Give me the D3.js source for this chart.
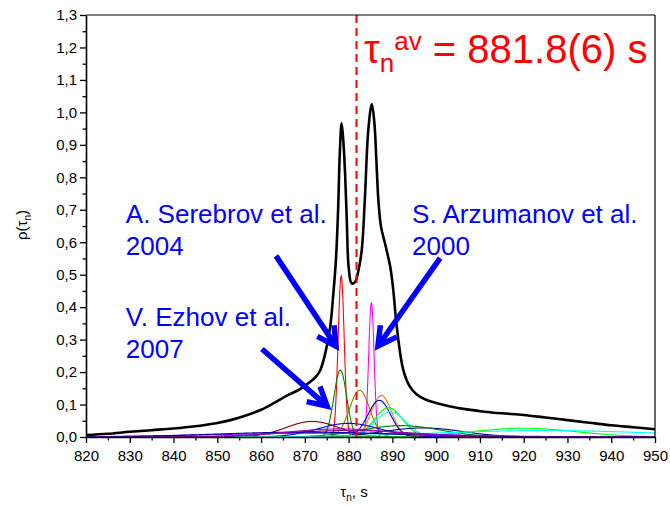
<!DOCTYPE html>
<html><head><meta charset="utf-8">
<script src="https://cdn.jsdelivr.net/npm/d3@7"></script>
<style>
body{margin:0;background:#fff;}
text{font-family:Arial,"Liberation Sans",sans-serif;}
</style></head>
<body><svg id="c" width="670" height="507"></svg>
<script>
// ---- data ----
const xTicks = [820,830,840,850,860,870,880,890,900,910,920,930,940,950];
const yTicks = [0,0.1,0.2,0.3,0.4,0.5,0.6,0.7,0.8,0.9,1.0,1.1,1.2,1.3];
// summed ideogram (black curve)
const sumX = [820,825,830,835,840,845,850,853,856,860,863,866,869,871,872.5,873.5,874.7,875.8,876.5,877.1,877.6,878.0,878.4,878.8,879.2,879.6,880.0,880.7,881.5,882.2,883.0,883.7,884.5,885.3,885.9,886.3,886.8,887.4,888.3,889.5,890.2,891.0,892.5,894.0,895.5,897.8,900,903,907,911,915,920,925,930,935,940,945,950];
const sumY = [0.006,0.01,0.016,0.021,0.026,0.033,0.043,0.052,0.064,0.084,0.105,0.128,0.148,0.168,0.185,0.205,0.26,0.34,0.44,0.545,0.70,0.88,0.966,0.91,0.81,0.66,0.525,0.473,0.478,0.51,0.576,0.73,0.946,1.026,0.966,0.864,0.73,0.648,0.597,0.525,0.453,0.34,0.206,0.155,0.132,0.114,0.105,0.095,0.085,0.078,0.073,0.068,0.06,0.052,0.044,0.036,0.03,0.024];
const compMean  = [878.3, 885.2, 878.1, 882.5, 887.5, 887.0, 889.1, 889.5, 871.7, 880.0, 897.0, 892.0, 920.0, 925.0, 880.0, 875.0, 870.0, 878.0];
const compSigma = [0.7,   0.62,  1.45,  2.3,   2.3,   2.6,   3.2,   3.5,   6.0,   7.0,   9.0,   9.0,   12.0,  25.0,  15.0,  25.0,  20.0,  12.0];
const compPeak  = [0.496, 0.415, 0.206, 0.144, 0.128, 0.113, 0.09,  0.078, 0.048, 0.042, 0.028, 0.035, 0.027, 0.02,  0.02,  0.012, 0.015, 0.025];
const compColor = ["#ff0000","#ff00ff","#008000","#808000","#ff8000","#0000ff","#00ff00","#00ffff","#800000","#0000ff","#000080","#008000","#00ff00","#00ffff","#800080","#8000ff","#0000a0","#a000a0"];
const tauAv = 881.8;
const annotations = [
  {lines:["A. Serebrov et al.","2004"], x:829.1, y:0.66, from:[863.4,0.558], to:[877.1,0.28]},
  {lines:["S. Arzumanov et al.","2000"], x:894.5, y:0.66, from:[900.9,0.551], to:[886.7,0.28]},
  {lines:["V. Ezhov et al.","2007"], x:829.1, y:0.342, from:[860.2,0.271], to:[875.1,0.095]}
];

// ---- chart ----
const svg = d3.select("#c");
const L=86,R=655,T=15,B=437;
const x = d3.scaleLinear().domain([820,950]).range([L,R]);
const y = d3.scaleLinear().domain([0,1.3]).range([B,T]);

svg.append("defs").append("clipPath").attr("id","clip")
  .append("rect").attr("x",L).attr("y",T).attr("width",R-L).attr("height",B-T);
const plot = svg.append("g").attr("clip-path","url(#clip)");

// components
const xs = d3.range(820,950.01,0.1);
const gline = d3.line().x(d=>x(d[0])).y(d=>y(d[1]));
compMean.forEach((m,i)=>{
  const s=compSigma[i], a=compPeak[i];
  const pts = xs.map(v=>[v, a*Math.exp(-0.5*((v-m)/s)**2)]);
  plot.append("path").attr("d",gline(pts)).attr("fill","none")
    .attr("stroke",compColor[i]).attr("stroke-width",1.1);
});

// sum
plot.append("path").attr("d", d3.line().x(d=>x(d[0])).y(d=>y(d[1])).curve(d3.curveCatmullRom.alpha(0.5))(sumX.map((v,i)=>[v,sumY[i]])))
  .attr("fill","none").attr("stroke","#000").attr("stroke-width",2.6);

// dashed average line
svg.append("line").attr("x1",x(tauAv)).attr("x2",x(tauAv)).attr("y1",y(1.3)).attr("y2",y(0))
  .attr("stroke","#ff0000").attr("stroke-width",2).attr("stroke-dasharray","8,5");

// frame
svg.append("line").attr("x1",L).attr("x2",R).attr("y1",T).attr("y2",T).attr("stroke","#000").attr("stroke-width",1.2);
svg.append("line").attr("x1",R).attr("x2",R).attr("y1",T).attr("y2",B).attr("stroke","#000").attr("stroke-width",1.2);

// axes
const fmtY = v=>d3.format(".1f")(v).replace(".",",");
const xAx = svg.append("g").attr("transform",`translate(0,${B})`)
  .call(d3.axisBottom(x).tickValues(xTicks).tickSize(6).tickSizeOuter(0).tickFormat(d3.format("d")));
svg.append("g").attr("transform",`translate(0,${B})`)
  .call(d3.axisBottom(x).tickValues(xTicks.slice(0,-1).map(v=>v+5)).tickSize(3.5).tickFormat(""))
  .call(g=>g.select(".domain").remove());
const yAx = svg.append("g").attr("transform",`translate(${L},0)`)
  .call(d3.axisLeft(y).tickValues(yTicks).tickSize(6).tickSizeOuter(0).tickFormat(fmtY));
svg.append("g").attr("transform",`translate(${L},0)`)
  .call(d3.axisLeft(y).tickValues(yTicks.slice(0,-1).map(v=>v+0.05)).tickSize(3.5).tickFormat(""))
  .call(g=>g.select(".domain").remove());
svg.selectAll(".domain").attr("stroke-width",1.6);
svg.selectAll(".tick line").attr("stroke-width",1.3);
xAx.selectAll("text").attr("font-size",15).attr("fill","#000").attr("dy","1.0em").attr("font-family","Arial, 'Liberation Sans', sans-serif");
yAx.selectAll("text").attr("font-size",15).attr("fill","#000").attr("x",-9).attr("font-family","Arial, 'Liberation Sans', sans-serif");

// axis titles
const xl = svg.append("text").attr("x",354).attr("y",497).attr("text-anchor","middle").attr("font-size",15);
xl.append("tspan").text("τ");
xl.append("tspan").text("n").attr("font-size",10).attr("dy",4);
xl.append("tspan").text(", s").attr("dy",-4);
const yl = svg.append("text").attr("transform","translate(27,225) rotate(-90)").attr("text-anchor","middle").attr("font-size",15);
yl.append("tspan").text("ρ(τ");
yl.append("tspan").text("n").attr("font-size",10).attr("dy",4);
yl.append("tspan").text(")").attr("dy",-4);

// title
const tt = svg.append("text").attr("x",364).attr("y",63).attr("fill","#ff0000").attr("font-size",40);
tt.append("tspan").text("τ");
tt.append("tspan").text("n").attr("font-size",26).attr("dy",9);
tt.append("tspan").text("av").attr("font-size",26).attr("dy",-22);
tt.append("tspan").text(" = 881.8(6) s").attr("dy",13);

// annotations
annotations.forEach(a=>{
  const t = svg.append("text").attr("fill","#0000ff").attr("font-size",26);
  a.lines.forEach((ln,i)=>t.append("tspan").attr("x",x(a.x)).attr("y",y(a.y)+i*32).text(ln));
  const x1=x(a.from[0]),y1=y(a.from[1]),x2=x(a.to[0]),y2=y(a.to[1]);
  const ang=Math.atan2(y2-y1,x2-x1), hl=21, ha=0.5;
  svg.append("line").attr("x1",x1).attr("y1",y1).attr("x2",x2-Math.cos(ang)*2).attr("y2",y2-Math.sin(ang)*2)
    .attr("stroke","#0000ff").attr("stroke-width",5.5);
  const p1=[x2-hl*Math.cos(ang-ha), y2-hl*Math.sin(ang-ha)];
  const p2=[x2-hl*Math.cos(ang+ha), y2-hl*Math.sin(ang+ha)];
  svg.append("path").attr("d",`M${p1}L${x2},${y2}L${p2}`).attr("fill","none")
    .attr("stroke","#0000ff").attr("stroke-width",5.5).attr("stroke-linejoin","miter");
});
</script></body></html>
